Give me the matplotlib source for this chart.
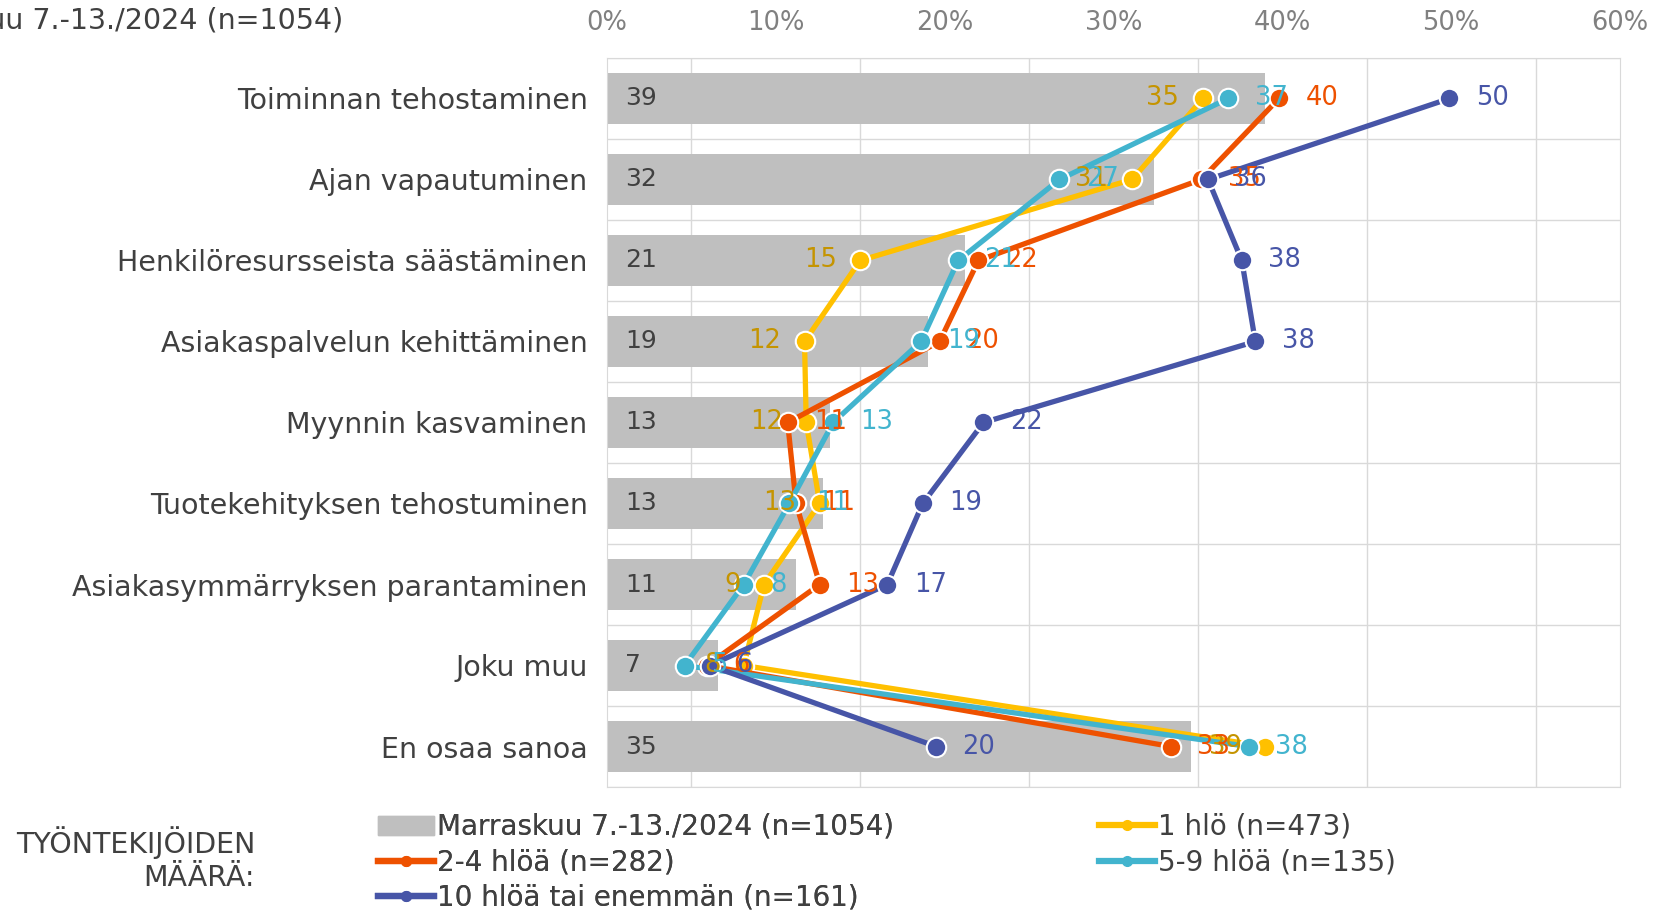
import matplotlib.pyplot as plt
from matplotlib.lines import Line2D
from matplotlib.patches import Patch

categories = [
    "Toiminnan tehostaminen",
    "Ajan vapautuminen",
    "Henkilöresursseista säästäminen",
    "Asiakaspalvelun kehittäminen",
    "Myynnin kasvaminen",
    "Tuotekehityksen tehostuminen",
    "Asiakasymmärryksen parantaminen",
    "Joku muu",
    "En osaa sanoa",
]

total_2024 = [39.0, 32.4, 21.2, 19.0, 13.2, 12.8, 11.2, 6.6, 34.6]
one_person = [35.3, 31.1, 15.0, 11.7, 11.8, 12.6, 9.3, 8.1, 39.0]
two_to_four = [39.8, 35.2, 22.0, 19.7, 10.7, 11.2, 12.6, 5.9, 33.4]
five_to_nine = [36.8, 26.8, 20.8, 18.6, 13.4, 10.8, 8.1, 4.6, 38.0]
ten_plus = [49.9, 35.6, 37.6, 38.4, 22.3, 18.7, 16.6, 6.1, 19.5]

bar_label = "Marraskuu 7.-13./2024 (n=1054)"
series_labels = ["1 hlö (n=473)", "2-4 hlöä (n=282)", "5-9 hlöä (n=135)",
                 "10 hlöä tai enemmän (n=161)"]
xticks = [0, 10, 20, 30, 40, 50, 60]

# värit
c_bar = "#BFBFBF"
c_text = "#404040"
colors = ["#FFC000", "#EE5100", "#42B4CE", "#4755A7"]
label_colors = ["#C59400", "#EE5100", "#42B4CE", "#4755A7"]

W, H = 1657, 911
fig = plt.figure(figsize=(W / 100, H / 100), dpi=100)
ax = fig.add_axes([607 / W, 1 - 787 / H, (1620 - 607) / W, (787 - 58) / H])

y = list(range(len(categories)))
ax.barh(y, total_2024, height=0.62, color=c_bar, zorder=2)
for yi, v in zip(y, total_2024):
    ax.annotate(f"{v:.0f}", (0, yi), xytext=(13, 0), textcoords="offset points",
                ha="left", va="center", fontsize=18, color=c_text, zorder=6)

all_series = [one_person, two_to_four, five_to_nine, ten_plus]
for vals, col in zip(all_series, colors):
    ax.plot(vals, y, color=col, lw=3.8, marker="o", markersize=14,
            markeredgecolor="white", markeredgewidth=1.5, zorder=3)
for i, (vals, lcol) in enumerate(zip(all_series, label_colors)):
    for yi, v in zip(y, vals):
        if i == 0:
            ax.annotate(f"{v:.0f}", (v, yi), xytext=(-17, 0), textcoords="offset points",
                        ha="right", va="center", fontsize=18.5, color=lcol, zorder=7)
        else:
            ax.annotate(f"{v:.0f}", (v, yi), xytext=(19, 0), textcoords="offset points",
                        ha="left", va="center", fontsize=18.5, color=lcol, zorder=7)

ax.set_xlim(0, 60)
ax.set_ylim(len(categories) - 0.5, -0.5)
ax.xaxis.tick_top()
ax.set_xticks(xticks)
ax.set_xticklabels([f"{t}%" for t in xticks])
ax.set_xticks(range(0, 61, 5), minor=True)
ax.set_yticks(y)
ax.set_yticklabels(categories)
ax.set_yticks([k + 0.5 for k in range(-1, len(categories))], minor=True)
ax.tick_params(axis="x", which="both", length=0, labelsize=18.5, labelcolor="#808080", pad=16)
ax.tick_params(axis="y", which="both", length=0, labelsize=20.5, labelcolor=c_text, pad=14)
ax.grid(which="minor", color="#D9D9D9", lw=1, zorder=0)
ax.grid(which="major", visible=False)
for s in ax.spines.values():
    s.set_color("#D9D9D9")

fig.text(343 / W, 1 - 20 / H, bar_label, ha="right", va="center", fontsize=20.5, color=c_text)
fig.text(255 / W, 1 - 859 / H, "TYÖNTEKIJÖIDEN\nMÄÄRÄ:", ha="right", va="center",
         fontsize=20.5, color=c_text, linespacing=1.2, multialignment="right")

h_bar = Patch(color=c_bar)
h_lines = [Line2D([], [], color=c, lw=4.5, marker="o", markersize=7) for c in colors]

leg_kw = dict(loc="upper left", frameon=False, fontsize=20, labelcolor=c_text,
              handlelength=2.0, handletextpad=0.12, labelspacing=0.26,
              borderaxespad=0, borderpad=0)
leg1 = fig.legend([h_bar, h_lines[1], h_lines[3]], [bar_label, series_labels[1], series_labels[3]],
                  bbox_to_anchor=(378 / W, 1 - 813 / H), **leg_kw)
fig.legend([h_lines[0], h_lines[2]], [series_labels[0], series_labels[2]],
           bbox_to_anchor=(1099 / W, 1 - 813 / H), **leg_kw)
fig.add_artist(leg1)

fig.savefig("out.png", dpi=100)
